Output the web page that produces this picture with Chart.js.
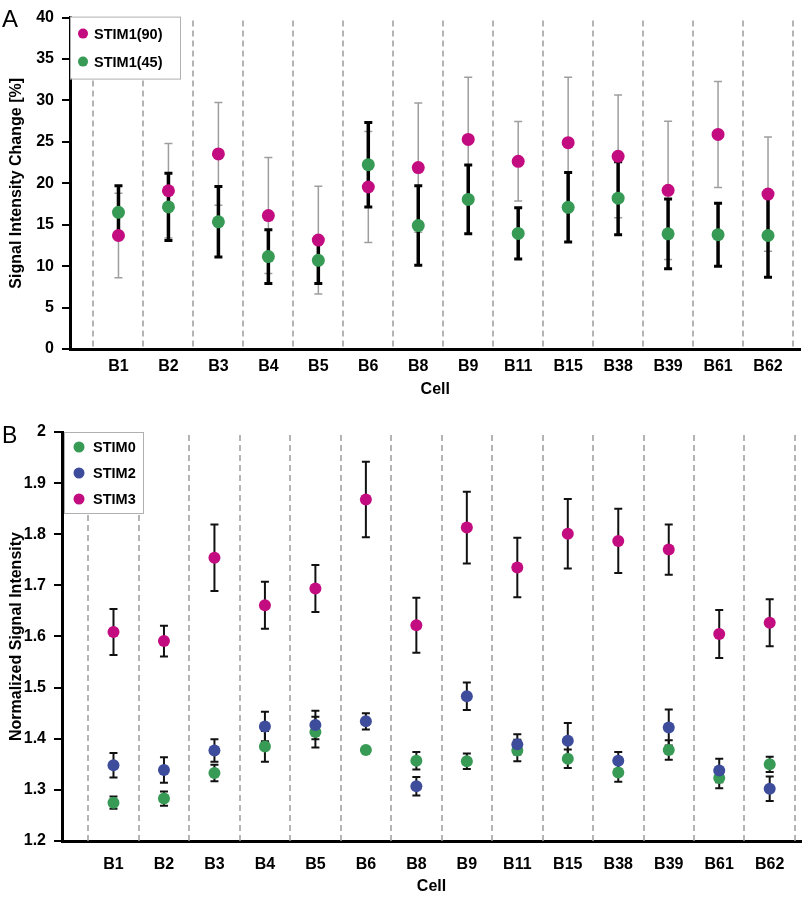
<!DOCTYPE html>
<html>
<head>
<meta charset="utf-8">
<script src="https://cdn.jsdelivr.net/npm/chart.js@4.4.1/dist/chart.umd.min.js"></script>
<style>
  body { margin: 0; background: #fff; width: 807px; height: 897px; position: relative; overflow: hidden; }
  canvas { position: absolute; left: 0; }
  #chartA { top: 0; }
  #chartB { top: 400px; }
  .panel { position: absolute; font-family: "Liberation Sans", Arial, sans-serif; color: #000; line-height: normal; }
</style>
</head>
<body>
<canvas id="chartA" width="807" height="400"></canvas>
<canvas id="chartB" width="807" height="497"></canvas>
<div class="panel" style="left:2px; top:5px; font-size:24px;">A</div>
<div class="panel" style="left:2px; top:422px; font-size:23px;">B</div>
<script>
// ---- data ----
const cells = ['B1', 'B2', 'B3', 'B4', 'B5', 'B6', 'B8', 'B9', 'B11', 'B15', 'B38', 'B39', 'B61', 'B62'];

// panel A: signal intensity change [%]
const stim90 = [13.7, 19.1, 23.55, 16.1, 13.15, 19.55, 21.9, 25.3, 22.65, 24.9, 23.25, 19.15, 25.9, 18.7];
const stim90Err = [5.1, 5.7, 6.2, 7.0, 6.5, 6.7, 7.8, 7.5, 4.8, 7.9, 7.4, 8.35, 6.4, 6.9];
const stim45 = [16.5, 17.15, 15.35, 11.15, 10.7, 22.25, 14.9, 18.05, 13.95, 17.1, 18.2, 13.9, 13.8, 13.7];
const stim45Err = [3.2, 4.05, 4.25, 3.25, 2.8, 5.1, 4.8, 4.15, 3.1, 4.2, 4.4, 4.2, 3.8, 5.05];

// panel B: normalized signal intensity
const stim0 = [1.275, 1.283, 1.333, 1.385, 1.413, 1.378, 1.357, 1.356, 1.377, 1.361, 1.334, 1.378, 1.323, 1.350];
const stim0Err = [0.012, 0.014, 0.016, 0.030, 0.030, 0.004, 0.017, 0.015, 0.021, 0.018, 0.018, 0.019, 0.020, 0.015];
const stim2 = [1.348, 1.339, 1.377, 1.424, 1.427, 1.434, 1.307, 1.483, 1.389, 1.396, 1.357, 1.422, 1.338, 1.302];
const stim2Err = [0.024, 0.025, 0.022, 0.029, 0.028, 0.016, 0.018, 0.027, 0.020, 0.035, 0.017, 0.035, 0.023, 0.024];
const stim3 = [1.609, 1.591, 1.754, 1.661, 1.694, 1.868, 1.622, 1.813, 1.735, 1.801, 1.787, 1.770, 1.605, 1.627];
const stim3Err = [0.045, 0.030, 0.065, 0.046, 0.046, 0.074, 0.054, 0.070, 0.058, 0.068, 0.063, 0.049, 0.047, 0.046];

const MAGENTA = '#c30c7f';
const GREEN = '#379a55';
const BLUE = '#3e4c9c';
const FONT = '"Liberation Sans", Arial, sans-serif';

function pts(values) {
  return values.map((v, i) => ({ x: i, y: v }));
}

// dashed cell separators + error bars, drawn under the points
const decorations = {
  id: 'decorations',
  beforeDatasetsDraw(chart, args, opts) {
    const { ctx, chartArea, scales: { x, y } } = chart;
    ctx.save();
    ctx.strokeStyle = '#9c9c9c';
    ctx.lineWidth = 1.5;
    ctx.setLineDash([6, 4]);
    for (let v = -0.5; v < x.max; v += 1) {
      const px = Math.round(x.getPixelForValue(v));
      ctx.beginPath();
      ctx.moveTo(px, chartArea.top + 3);
      ctx.lineTo(px, chartArea.bottom);
      ctx.stroke();
    }
    ctx.setLineDash([]);
    chart.data.datasets.forEach(ds => {
      if (!ds.errors) return;
      ctx.strokeStyle = ds.errColor;
      ds.data.forEach((p, i) => {
        const e = ds.errors[i];
        const px = x.getPixelForValue(p.x);
        const top = y.getPixelForValue(p.y + e);
        const bot = y.getPixelForValue(p.y - e);
        ctx.lineWidth = ds.errWidth;
        ctx.beginPath();
        ctx.moveTo(px, top);
        ctx.lineTo(px, bot);
        ctx.stroke();
        ctx.lineWidth = ds.capWidth;
        ctx.beginPath();
        ctx.moveTo(px - ds.capHalf, top);
        ctx.lineTo(px + ds.capHalf, top);
        ctx.moveTo(px - ds.capHalf, bot);
        ctx.lineTo(px + ds.capHalf, bot);
        ctx.stroke();
      });
    });
    ctx.restore();
  }
};

// boxed legend inside the plot, top-left
const boxLegend = {
  id: 'boxLegend',
  afterDraw(chart, args, opts) {
    const { ctx, chartArea } = chart;
    const x0 = chartArea.left + opts.dx;
    const y0 = chartArea.top + opts.dy;
    ctx.save();
    ctx.fillStyle = '#fff';
    ctx.fillRect(x0, y0, opts.width, opts.height);
    ctx.strokeStyle = '#b0b0b0';
    ctx.lineWidth = 1;
    ctx.strokeRect(x0 + 0.5, y0 + 0.5, opts.width, opts.height);
    ctx.font = 'bold 14.5px ' + FONT;
    ctx.textBaseline = 'middle';
    opts.order.forEach((di, k) => {
      const ds = chart.data.datasets[di];
      const cy = y0 + opts.firstRow + k * opts.rowGap;
      ctx.fillStyle = ds.backgroundColor;
      ctx.beginPath();
      ctx.arc(x0 + opts.markerX, cy, opts.markerR, 0, Math.PI * 2);
      ctx.fill();
      ctx.fillStyle = '#000';
      ctx.fillText(ds.label, x0 + opts.textX, cy + 1);
    });
    ctx.restore();
  }
};

function makeOptions(cfg) {
  return {
    responsive: false,
    animation: false,
    events: [],
    layout: { padding: cfg.padding },
    plugins: {
      legend: { display: false },
      tooltip: { enabled: false },
      boxLegend: cfg.legend
    },
    scales: {
      x: {
        type: 'linear',
        min: cfg.xMin,
        max: cfg.xMax,
        afterBuildTicks: s => { s.ticks = cells.map((c, i) => ({ value: i })); },
        afterFit: s => { s.height = cfg.xHeight; },
        ticks: {
          callback: v => cells[v],
          autoSkip: false,
          maxRotation: 0,
          padding: cfg.xTickPad,
          color: '#000',
          font: { family: FONT, size: 16, weight: 'bold' }
        },
        grid: { display: false, drawTicks: false },
        border: { color: '#000', width: 3 },
        title: {
          display: true,
          text: 'Cell',
          color: '#000',
          font: { family: FONT, size: 16, weight: 'bold' },
          padding: { top: 0, bottom: cfg.xTitlePad }
        }
      },
      y: {
        min: cfg.yMin,
        max: cfg.yMax,
        afterFit: s => { s.width = cfg.yWidth; },
        ticks: {
          stepSize: cfg.yStep,
          callback: v => String(Math.round(v * 10) / 10),
          padding: 8,
          color: '#000',
          font: { family: FONT, size: 16, weight: 'bold' }
        },
        grid: { display: true, drawOnChartArea: false, drawTicks: true, tickLength: 8, color: '#000', lineWidth: 2 },
        border: { color: '#000', width: 3 },
        title: {
          display: true,
          text: cfg.yTitle,
          color: '#000',
          font: { family: FONT, size: 16, weight: 'bold' },
          padding: { top: 7, bottom: 0 }
        }
      }
    }
  };
}

new Chart(document.getElementById('chartA'), {
  type: 'scatter',
  data: {
    datasets: [
      {
        label: 'STIM1(90)', data: pts(stim90), errors: stim90Err,
        errColor: '#9e9e9e', errWidth: 1.5, capWidth: 1.5, capHalf: 4,
        backgroundColor: MAGENTA, borderColor: MAGENTA, borderWidth: 0,
        pointRadius: 6.5, pointHoverRadius: 6.5
      },
      {
        label: 'STIM1(45)', data: pts(stim45), errors: stim45Err,
        errColor: '#000', errWidth: 3.5, capWidth: 3, capHalf: 4,
        backgroundColor: GREEN, borderColor: GREEN, borderWidth: 0,
        pointRadius: 6.5, pointHoverRadius: 6.5
      }
    ]
  },
  options: makeOptions({
    padding: { top: 11, right: 1, left: 0, bottom: 0 },
    xMin: -0.97, xMax: 13.65, xHeight: 51, xTickPad: 8, xTitlePad: 0.5,
    yMin: 0, yMax: 40, yStep: 5, yWidth: 70,
    yTitle: 'Signal Intensity Change [%]',
    legend: { dx: 0, dy: -1, width: 110, height: 62, firstRow: 17, rowGap: 28, markerX: 13, markerR: 5, textX: 24, order: [0, 1] }
  }),
  plugins: [decorations, boxLegend]
});

new Chart(document.getElementById('chartB'), {
  type: 'scatter',
  data: {
    datasets: [
      {
        label: 'STIM3', data: pts(stim3), errors: stim3Err,
        errColor: '#111', errWidth: 2, capWidth: 2, capHalf: 4,
        backgroundColor: MAGENTA, borderColor: MAGENTA, borderWidth: 0,
        pointRadius: 6, pointHoverRadius: 6
      },
      {
        label: 'STIM2', data: pts(stim2), errors: stim2Err,
        errColor: '#111', errWidth: 2, capWidth: 2, capHalf: 4,
        backgroundColor: BLUE, borderColor: BLUE, borderWidth: 0,
        pointRadius: 6, pointHoverRadius: 6
      },
      {
        label: 'STIM0', data: pts(stim0), errors: stim0Err,
        errColor: '#111', errWidth: 2, capWidth: 2, capHalf: 4,
        backgroundColor: GREEN, borderColor: GREEN, borderWidth: 0,
        pointRadius: 6, pointHoverRadius: 6
      }
    ]
  },
  options: makeOptions({
    padding: { top: 32, right: 6, left: 0, bottom: 0 },
    xMin: -1.02, xMax: 13.62, xHeight: 56, xTickPad: 14, xTitlePad: 0.6,
    yMin: 1.2, yMax: 2, yStep: 0.1, yWidth: 62,
    yTitle: 'Normalized Signal Intensity',
    legend: { dx: 2, dy: 0, width: 79, height: 81, firstRow: 15, rowGap: 26, markerX: 15, markerR: 5.5, textX: 29, order: [2, 1, 0] }
  }),
  plugins: [decorations, boxLegend]
});
</script>
</body>
</html>
